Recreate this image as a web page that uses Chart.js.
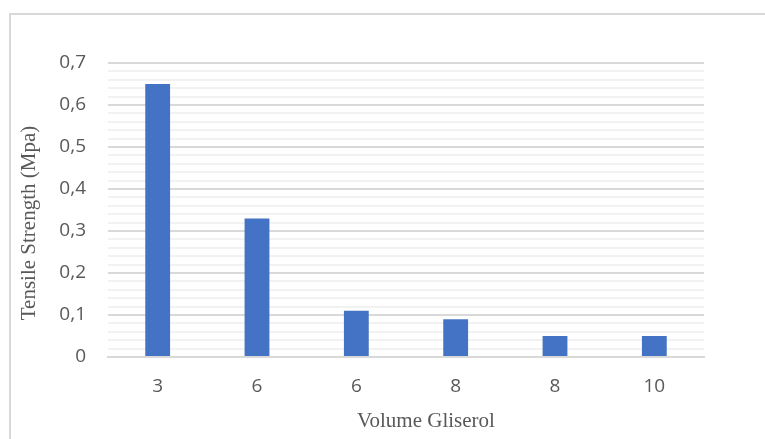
<!DOCTYPE html>
<html>
<head>
<meta charset="utf-8">
<script src="https://cdn.jsdelivr.net/npm/chart.js@4"></script>
<style>
  html, body { margin: 0; padding: 0; background: #fff; }
  #wrap { position: relative; width: 765px; height: 439px; overflow: hidden; }
  #frame { position: absolute; left: 9px; top: 13px; width: 800px; height: 500px; border: 2px solid #d9d9d9; box-sizing: border-box; }
  canvas { position: absolute; left: 0; top: 0; }
</style>
</head>
<body>
<div id="wrap">
  <div id="frame"></div>
  <canvas id="chart" width="765" height="439"></canvas>
</div>
<script>
// 🔹 DATA
const categories = ["3", "6", "6", "8", "8", "10"];
const tensileValues = [0.65, 0.33, 0.11, 0.09, 0.05, 0.05];
const yMax = 0.7;
const yStep = 0.02; // minor gridlines, labels every 0.1
const xTitle = "Volume Gliserol";
const yTitle = "Tensile Strength (Mpa)";

const tickFont = { family: "'Open Sans', sans-serif", size: 19 };
const titleFont = "21px 'Liberation Serif', 'DejaVu Serif', serif";

// axis titles (Excel centres them slightly off the plot centre)
const axisTitles = {
  id: "axisTitles",
  afterDraw(chart) {
    const { ctx, chartArea } = chart;
    ctx.save();
    ctx.fillStyle = "#595959";
    ctx.font = titleFont;
    ctx.textAlign = "center";
    ctx.textBaseline = "middle";
    ctx.fillText(xTitle, (chartArea.left + chartArea.right) / 2 + 20, chartArea.bottom + 64);
    ctx.translate(29, (chartArea.top + chartArea.bottom) / 2 + 13);
    ctx.rotate(-Math.PI / 2);
    ctx.fillText(yTitle, 0, 0);
    ctx.restore();
  }
};

new Chart(document.getElementById("chart"), {
  type: "bar",
  data: {
    labels: categories,
    datasets: [{
      label: "Tensile Strength",
      data: tensileValues,
      backgroundColor: "#4472c4",
      barPercentage: 0.25,
      categoryPercentage: 1
    }]
  },
  options: {
    responsive: false,
    animation: false,
    layout: { padding: { top: 63, right: 61, left: 0, bottom: 0 } },
    plugins: {
      legend: { display: false },
      tooltip: { enabled: false }
    },
    scales: {
      x: {
        grid: { display: false, drawTicks: false },
        border: { color: "#d9d9d9", width: 2 },
        ticks: { color: "#595959", font: tickFont, padding: 18 },
        afterFit: s => { s.height = 82; }
      },
      y: {
        min: 0,
        max: yMax,
        grid: {
          drawTicks: false,
          lineWidth: 2,
          color: ctx => {
            const v = Math.round(ctx.tick.value * 100);
            return v % 10 === 0 ? "#d9d9d9" : "#f2f2f2";
          }
        },
        border: { display: false },
        ticks: {
          stepSize: yStep,
          autoSkip: false,
          color: "#595959",
          font: tickFont,
          padding: 22,
          callback: v => {
            const n = Math.round(v * 100);
            if (n % 10 !== 0) return "";
            return n === 0 ? "0" : (n / 100).toFixed(1).replace(".", ",");
          }
        },
        afterFit: s => { s.width = 108; }
      }
    }
  },
  plugins: [axisTitles]
});
</script>
</body>
</html>
